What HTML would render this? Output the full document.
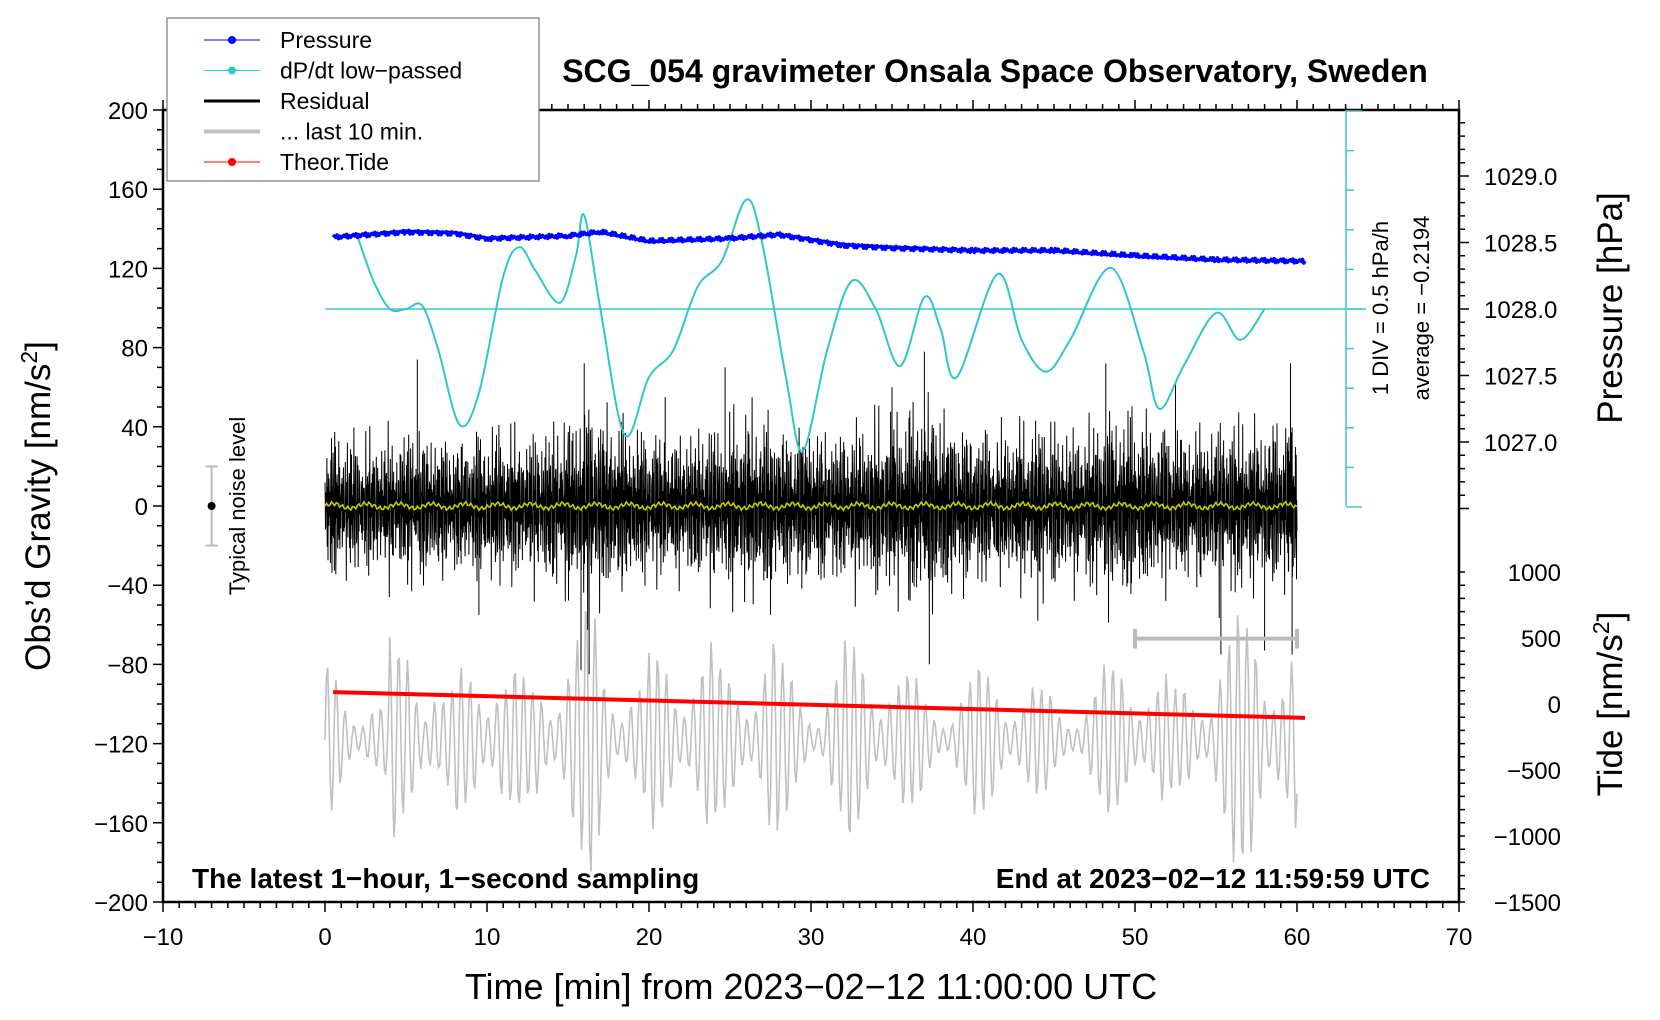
<!DOCTYPE html>
<html><head><meta charset="utf-8">
<style>
html,body{margin:0;padding:0;background:#fff}
svg{display:block;font-family:"Liberation Sans",sans-serif}
</style></head>
<body>
<svg id="chart" width="1660" height="1020" viewBox="0 0 1660 1020" xmlns="http://www.w3.org/2000/svg">
<g id="marks"></g>
<g id="axes"></g>
</svg>
<script>
// ---- data ----
const cyanMin = [2,3,4,5,6,7,8.3,9.5,11,12,13,14.5,15.5,16,17,18.5,20,21.5,23,24.5,26,27,28.5,29.5,31,32.5,34,35.5,37,38,39,41.5,43,44.5,46,48.5,50.5,51.5,53,55,56.5,58];
const cyanVal = [0.92,0.35,0,0,0.04,-0.52,-1.46,-1.06,0.41,0.78,0.48,0.08,0.68,1.18,0,-1.59,-0.86,-0.52,0.28,0.61,1.38,0.82,-0.92,-1.79,-0.52,0.35,0,-0.72,0.15,-0.25,-0.86,0.44,-0.39,-0.79,-0.39,0.52,-0.52,-1.26,-0.72,-0.05,-0.39,0];
const presMin = [0.5,5,8,10,15,17,20,25,28,32,35,40,45,50,55,60.5];
const presVal = [1028.54,1028.58,1028.57,1028.53,1028.55,1028.58,1028.51,1028.53,1028.56,1028.48,1028.46,1028.44,1028.44,1028.40,1028.37,1028.36];
const tideMin = [0.5,60.5];
const tideVal = [90,-105];
const resAmp = [38,36,34,35,36,40,38,35,36,38,40,38,36,40,42,48,52,48,44,40,38,36,38,40,42,46,48,44,40,42,40,38,40,42,44,46,52,55,46,42,40,38,40,42,44,40,38,44,48,50,46,42,40,38,40,42,44,40,42,46,44];
const spikeMin = [5.7,9.5,15.8,16,16.3,21,24.7,27.5,35,37,37.3,44,48.2,52.5,55.3,58,59.6,59.7];
const spikeVal = [74,-55,-83,72,-85,55,70,-55,60,78,-80,-58,72,62,-75,-73,72,-75];
const greyAmp = [30,25,20,15,40,55,35,20,30,40,45,30,25,35,40,45,55,40,30,25,35,40,45,40,30,35,40,45,30,25,20,30,40,45,40,30,25,20,20,25,30,35,30,25,20,15,20,25,30,35,40,30,20,25,35,45,50,60,55,40,30];
const xTicks = [-10,0,10,20,30,40,50,60,70];
const yTicks = [200,160,120,80,40,0,-40,-80,-120,-160,-200];
const pTicks = [1029.0,1028.5,1028.0,1027.5,1027.0];
const tTicks = [1000,500,0,-500,-1000,-1500];

// ---- scales ----
const X0=163,X1=1459,Y0=110,Y1=902;
const sx = m => X0 + (m+10)/80*(X1-X0);
const sy = g => Y1 - (g+200)/400*(Y1-Y0);
const sp = p => 309 - (p-1028)*133;
const sc = v => 309 - v/0.5*39.6;
const st = t => 704 - t/500*66;
const NS="http://www.w3.org/2000/svg";
function el(tag, attrs, parent){const e=document.createElementNS(NS,tag);for(const k in attrs)e.setAttribute(k,attrs[k]);parent.appendChild(e);return e;}
const marks=document.getElementById('marks'), axes=document.getElementById('axes');

let bl=el('line',{x1:sx(0),x2:1366,y1:309,y2:309,stroke:'#3cc8c8','stroke-width':1.5},marks);



// grey last 10 min
let gd='';
for(let i=0;i<=60*12;i++){const m=i/12;const k=Math.min(60,Math.floor(m));const a=greyAmp[k]*1.3;
 const v=-118 + a*Math.sin(i*0.95)*(0.6+0.4*Math.cos(i*0.13));
 gd+=(i?'L':'M')+sx(m).toFixed(1)+' '+sy(v).toFixed(1);}
let gp=el('path',{d:gd,fill:'none',stroke:'#c0c0c0','stroke-width':1.6},marks);



// residual
let rd='';
for(let i=0;i<=3600;i++){const m=i/60;const k=Math.min(60,Math.floor(m));const a=resAmp[k];
 const w=0.55*Math.sin(i*2.13)+0.35*Math.sin(i*3.71+1)+0.3*Math.sin(i*0.83+2)+0.2*Math.sin(i*5.3);
 const v=a*w*(0.55+0.45*Math.abs(Math.sin(i*0.047)));
 rd+=(i?'L':'M')+sx(m).toFixed(1)+' '+sy(v).toFixed(1);}
for(let j=0;j<spikeMin.length;j++){rd+='M'+sx(spikeMin[j]).toFixed(1)+' '+sy(0)+'L'+sx(spikeMin[j]).toFixed(1)+' '+sy(spikeVal[j]).toFixed(1);}
let rp=el('path',{d:rd,fill:'none',stroke:'#000','stroke-width':1},marks);



// yellow smoothed
let yd='';
for(let i=0;i<=600;i++){const m=i/10;const v=1.0*Math.sin(i*1.9)+1.2*Math.sin(i*0.31);yd+=(i?'L':'M')+sx(m).toFixed(1)+' '+sy(v).toFixed(1);}
let yp=el('path',{d:yd,fill:'none',stroke:'#c8c800','stroke-width':1.6},marks);



// cyan curve
function smooth(xs,ys){let d='M'+xs[0]+' '+ys[0];for(let i=0;i<xs.length-1;i++){const x0=xs[Math.max(0,i-1)],y0=ys[Math.max(0,i-1)],x1=xs[i],y1=ys[i],x2=xs[i+1],y2=ys[i+1],x3=xs[Math.min(xs.length-1,i+2)],y3=ys[Math.min(xs.length-1,i+2)];
 d+='C'+(x1+(x2-x0)/6).toFixed(1)+' '+(y1+(y2-y0)/6).toFixed(1)+' '+(x2-(x3-x1)/6).toFixed(1)+' '+(y2-(y3-y1)/6).toFixed(1)+' '+x2.toFixed(1)+' '+y2.toFixed(1);}return d;}
let cp=el('path',{d:smooth(cyanMin.map(sx),cyanVal.map(sc)),fill:'none',stroke:'#2ec8c8','stroke-width':2},marks);



// pressure (interpolated between readings, with fine jitter texture)
let pd='';
for(let i=0;i<presMin.length-1;i++){
 const n=Math.round((presMin[i+1]-presMin[i])*12);
 for(let s=0;s<n;s++){const f=s/n;const m=presMin[i]+f*(presMin[i+1]-presMin[i]);
  const p=presVal[i]+f*(presVal[i+1]-presVal[i])+0.012*Math.sin((i*50+s)*2.7)+0.006*Math.sin((i*50+s)*0.9);
  pd+=(pd?'L':'M')+sx(m).toFixed(1)+' '+sp(p).toFixed(1);}
}
pd+='L'+sx(presMin[presMin.length-1]).toFixed(1)+' '+sp(presVal[presVal.length-1]).toFixed(1);
let pp=el('path',{d:pd,fill:'none',stroke:'#0000ff','stroke-width':3.5,'stroke-linejoin':'round'},marks);



let tp=el('line',{x1:sx(tideMin[0]),y1:st(tideVal[0]),x2:sx(tideMin[1]),y2:st(tideVal[1]),stroke:'#ff0000','stroke-width':4},marks);



let nb=el('g',{stroke:'#bbb','stroke-width':2},marks);


el('line',{x1:sx(-7),x2:sx(-7),y1:sy(20),y2:sy(-20)},nb);
el('line',{x1:sx(-7)-6,x2:sx(-7)+6,y1:sy(20),y2:sy(20)},nb);
el('line',{x1:sx(-7)-6,x2:sx(-7)+6,y1:sy(-20),y2:sy(-20)},nb);
el('circle',{cx:sx(-7),cy:sy(0),r:4,fill:'#000',stroke:'none'},nb);
let tb=el('g',{stroke:'#bbb','stroke-width':4},marks);


el('line',{x1:sx(50),x2:sx(60),y1:sy(-67),y2:sy(-67)},tb);
el('line',{x1:sx(50),x2:sx(50),y1:sy(-62),y2:sy(-72)},tb);
el('line',{x1:sx(60),x2:sx(60),y1:sy(-62),y2:sy(-72)},tb);

// ---- axes ----
let fr=el('rect',{x:X0,y:Y0,width:X1-X0,height:Y1-Y0,fill:'none',stroke:'#000','stroke-width':2.5},axes);


let tk='';
for(let m=-10;m<=70;m++){const L=(m%10===0)?10:6;tk+=`M${sx(m)} ${Y1}v${L}M${sx(m)} ${Y0}v-${L}`;}
for(let g=-200;g<=200;g+=10){const L=(g%40===0)?10:6;tk+=`M${X0} ${sy(g)}h-${L}`;}
for(let p=1026.5;p<=1029.5001;p+=0.1){const y=sp(p);if(y<Y0||y>Y1)continue;const L=(Math.abs(p*2-Math.round(p*2))<0.01)?10:6;tk+=`M${X1} ${y}h${L}`;}
for(let t=-1500;t<=1000;t+=100){tk+=`M${X1} ${st(t)}h6`;}
el('path',{d:tk,stroke:'#000','stroke-width':1.5,fill:'none'},axes);
let ca=el('g',{stroke:'#3cc8c8','stroke-width':1.5},axes);


el('line',{x1:1346,x2:1346,y1:Y0,y2:506},ca);
for(let k=-5;k<=5;k++){const y=sc(k*0.5);el('line',{x1:1346,x2:(k===-5||k===0||k===5)?1362:1354,y1:y,y2:y},ca);}

function txt(s,a,parent,name){const t=el('text',a,parent||axes);t.textContent=s;return t;}
xTicks.forEach(v=>txt(String(v).replace('-','\u2212'),{x:sx(v),y:945,'font-size':24,'text-anchor':'middle'},axes,'x-tick-label'));
yTicks.forEach(v=>txt(String(v).replace('-','\u2212'),{x:148,y:sy(v)+9,'font-size':24,'text-anchor':'end'},axes,'y-tick-label'));
pTicks.forEach(v=>txt(v.toFixed(1),{x:1484,y:sp(v)+9,'font-size':24},axes,'pressure-tick-label'));
tTicks.forEach(v=>txt(String(v).replace('-','\u2212'),{x:1561,y:st(v)+9,'font-size':24,'text-anchor':'end'},axes,'tide-tick-label'));

txt('SCG_054 gravimeter Onsala Space Observatory, Sweden',{x:995,y:82,'font-size':32,'font-weight':'bold','text-anchor':'middle'},axes,'chart-title');
txt('Time [min] from 2023\u221202\u221212 11:00:00 UTC',{x:811,y:999,'font-size':36,'text-anchor':'middle'},axes,'x-axis-title');
let yt=txt('',{transform:'translate(50,506) rotate(-90)','font-size':35,'text-anchor':'middle'},axes,'y-axis-title');
yt.innerHTML='Obs\u2019d Gravity [nm/s<tspan font-size="23" dy="-13">2</tspan><tspan dy="13">]</tspan>';
txt('Pressure [hPa]',{transform:'translate(1622,308) rotate(-90)','font-size':35,'text-anchor':'middle'},axes,'pressure-axis-title');
let tt=txt('',{transform:'translate(1622,704) rotate(-90)','font-size':35,'text-anchor':'middle'},axes,'tide-axis-title');
tt.innerHTML='Tide [nm/s<tspan font-size="23" dy="-13">2</tspan><tspan dy="13">]</tspan>';
txt('1 DIV = 0.5 hPa/h',{transform:'translate(1388,308) rotate(-90)','font-size':22,'text-anchor':'middle'},axes,'div-note');
txt('average = \u22120.2194',{transform:'translate(1429,308) rotate(-90)','font-size':22,'text-anchor':'middle'},axes,'average-note');
txt('Typical noise level',{transform:'translate(245,506) rotate(-90)','font-size':22,'text-anchor':'middle'},axes,'noise-level-label');
txt('The latest 1\u2212hour, 1\u2212second sampling',{x:192,y:888,'font-size':28,'font-weight':'bold'},axes,'sampling-note');
txt('End at 2023\u221202\u221212 11:59:59 UTC',{x:1430,y:888,'font-size':28,'font-weight':'bold','text-anchor':'end'},axes,'end-time-note');

const lg=el('g',{},axes);


el('rect',{x:167,y:18,width:372,height:163,fill:'#fff',stroke:'#777','stroke-width':1.2},lg);
const legNames=['Pressure','dP/dt low\u2212passed','Residual','... last 10 min.','Theor.Tide'];
const legCol=['#0000ff','#2ec8c8','#000','#c0c0c0','#ff0000'];
const legW=[1,1,3,4,1];
const legDot=[true,true,false,false,true];
for(let i=0;i<5;i++){const y=40+i*30.5;
 const e=el('g',{},lg);
 
 
 el('line',{x1:204,x2:260,y1:y,y2:y,stroke:legCol[i],'stroke-width':legW[i]},e);
 if(legDot[i])el('circle',{cx:232,cy:y,r:4,fill:legCol[i]},e);
 const t=el('text',{x:280,y:y+8,'font-size':23},e);t.textContent=legNames[i];}
</script>
</body></html>
